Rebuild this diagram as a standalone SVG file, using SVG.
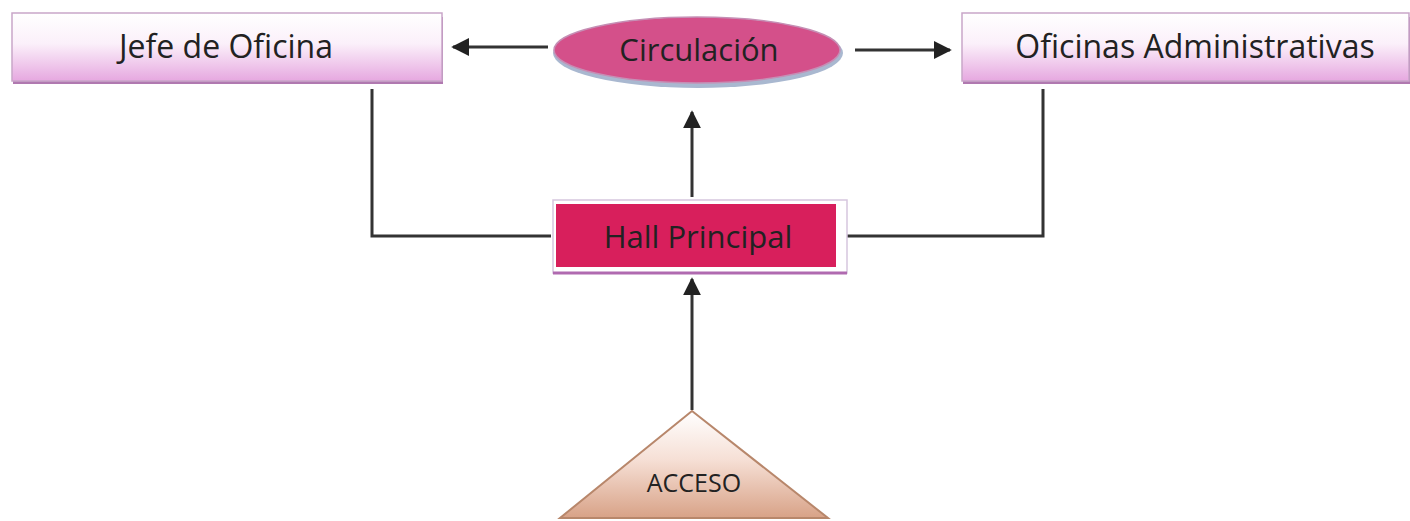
<svg xmlns="http://www.w3.org/2000/svg" width="1410" height="521" viewBox="0 0 1410 521">
<defs>
<linearGradient id="boxGrad" x1="0" y1="0" x2="0" y2="1">
<stop offset="0" stop-color="#ffffff"/>
<stop offset="0.45" stop-color="#fbf0fa"/>
<stop offset="1" stop-color="#e6a8e0"/>
</linearGradient>
<linearGradient id="triGrad" x1="0" y1="0" x2="0" y2="1">
<stop offset="0" stop-color="#ffffff"/>
<stop offset="0.45" stop-color="#f6e0d6"/>
<stop offset="1" stop-color="#d8a287"/>
</linearGradient>
<marker id="arrow" viewBox="0 0 10 10" refX="9" refY="5" markerWidth="6" markerHeight="6" orient="auto-start-reverse" markerUnits="strokeWidth">
<path d="M0,0 L10,5 L0,10 z" fill="#222"/>
</marker>
<style>
.lbl{font-family:"Open Sans","Liberation Sans",sans-serif;fill:#222;text-anchor:middle}
.conn{stroke:#333;stroke-width:3;fill:none}
</style>
</defs>
<rect width="1410" height="521" fill="#ffffff"/>
<g id="connectors">
<line class="conn" x1="548" y1="47" x2="453" y2="47" marker-end="url(#arrow)"/>
<line class="conn" x1="855" y1="50" x2="950" y2="50" marker-end="url(#arrow)"/>
<line class="conn" x1="692" y1="197" x2="692" y2="112" marker-end="url(#arrow)"/>
<line class="conn" x1="692" y1="410" x2="692" y2="279" marker-end="url(#arrow)"/>
<polyline class="conn" points="372,89 372,236 551,236"/>
<polyline class="conn" points="1043,89 1043,236 847,236"/>
</g>
<g id="jefe">
<rect x="13" y="17" width="430" height="67" fill="#b079b0"/>
<rect x="12" y="13" width="430" height="68" fill="url(#boxGrad)" stroke="#c9a6c9" stroke-width="1.5"/>
<text class="lbl" x="226" y="58" font-size="32">Jefe de Oficina</text>
</g>
<g id="circulacion">
<ellipse cx="698" cy="53" rx="145" ry="35" fill="#a9b8d0"/>
<ellipse cx="697" cy="50" rx="143" ry="33" fill="#d4508a" stroke="#c58fb5" stroke-width="1.5"/>
<text class="lbl" x="699" y="61" font-size="31">Circulación</text>
</g>
<g id="oficinas">
<rect x="963" y="17" width="447" height="67" fill="#b079b0"/>
<rect x="962" y="13" width="447" height="68" fill="url(#boxGrad)" stroke="#c9a6c9" stroke-width="1.5"/>
<text class="lbl" x="1195" y="58" font-size="32">Oficinas Administrativas</text>
</g>
<g id="hall">
<rect x="553" y="200" width="294" height="73" fill="#ffffff" stroke="#d6c6de" stroke-width="1.5"/>
<line x1="553" y1="273" x2="847" y2="273" stroke="#b06ab0" stroke-width="3"/>
<rect x="556" y="204" width="280" height="63" fill="#d81f5c"/>
<text class="lbl" x="698" y="248" font-size="31">Hall Principal</text>
</g>
<g id="acceso">
<polygon points="692,411 560,518 828,518" fill="url(#triGrad)" stroke="#b8876b" stroke-width="2"/>
<text class="lbl" x="694" y="492" font-size="25">ACCESO</text>
</g>
</svg>
